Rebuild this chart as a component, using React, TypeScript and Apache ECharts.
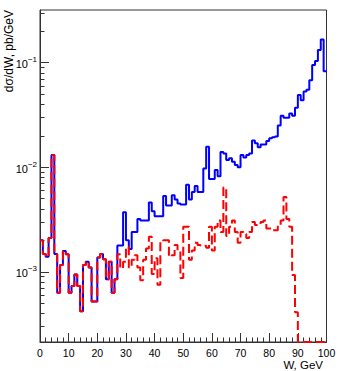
import React, { useEffect, useRef } from "react";
import * as echarts from "echarts";

// Histogram bin edges (W, GeV)
const binEdges: number[] = Array.from({ length: 101 }, (_, i) => i);

// dσ/dW (pb/GeV) per 1 GeV bin — blue solid histogram
const blueValues: number[] = [
  0.0020, 0.00148, 0.00139, 0.00211, 0.0131, 0.00148, 0.00063, 0.00116, 0.00158, 0.00147,
  0.00063, 0.00073, 0.00094, 0.00073, 0.00042, 0.00116, 0.00125, 0.0011, 0.00052, 0.00052,
  0.00137, 0.00148, 0.00132, 0.00085, 0.00125, 0.00063, 0.00085, 0.00178, 0.00178, 0.0037,
  0.0020, 0.00165, 0.0024, 0.0024, 0.0032, 0.0031, 0.0031, 0.0031, 0.0046, 0.0038,
  0.0034, 0.0034, 0.0034, 0.0053, 0.0043, 0.0043, 0.0054, 0.0049, 0.0045, 0.0044,
  0.0044, 0.0068, 0.0049, 0.0058, 0.0066, 0.0058, 0.0058, 0.0097, 0.0157, 0.0077,
  0.0077, 0.0094, 0.0082, 0.0140, 0.0135, 0.0117, 0.0122, 0.0113, 0.0105, 0.0100,
  0.0131, 0.0124, 0.0131, 0.0135, 0.018, 0.017, 0.0155, 0.0165, 0.0165, 0.0178,
  0.0189, 0.0193, 0.0197, 0.025, 0.031, 0.0297, 0.0297, 0.0327, 0.031, 0.037,
  0.049, 0.0437, 0.053, 0.055, 0.068, 0.095, 0.104, 0.132, 0.167, 0.083,
];

// red dashed histogram
const redValues: number[] = [
  0.0020, 0.00148, 0.00139, 0.00211, 0.0131, 0.00148, 0.00063, 0.00116, 0.00158, 0.00147,
  0.00063, 0.00073, 0.00094, 0.00073, 0.00042, 0.00116, 0.00125, 0.0011, 0.00052, 0.00052,
  0.00137, 0.00148, 0.00132, 0.00085, 0.00125, 0.00063, 0.00085, 0.00147, 0.00108, 0.00125,
  0.00173, 0.0011, 0.0013, 0.00144, 0.0011, 0.00083, 0.0013, 0.00167, 0.00216, 0.00095,
  0.00135, 0.00075, 0.00194, 0.0020, 0.0020, 0.0014, 0.00144, 0.0018, 0.0016, 0.00087,
  0.0027, 0.0027, 0.0013, 0.0016, 0.0019, 0.0018, 0.00177, 0.00177, 0.0017, 0.0027,
  0.0016, 0.0027, 0.0031, 0.0024, 0.0064, 0.0022, 0.0027, 0.0031, 0.0024, 0.0019,
  0.0024, 0.0023, 0.0021, 0.0024, 0.0030, 0.0028, 0.0028, 0.0030, 0.0031, 0.0026,
  0.0026, 0.0025, 0.0025, 0.0028, 0.0031, 0.0052, 0.0032, 0.0027, 0.00093, 0.00041,
  0, 0, 0, 0, 0, 0, 0, 0, 0, 0,
];

const yRange: number[] = [2.13e-4, 0.319];
const yMajorExponents: number[] = [-3, -2, -1];
const yMinorDecades: number[] = [-4, -3, -2, -1];
const yMinorMultipliers: number[] = [2, 3, 4, 5, 6, 7, 8, 9];
const xTitle = "W, GeV";
const yTitle = "dσ/dW, pb/GeV";

const FONT = "'Liberation Sans', Arial, Helvetica, sans-serif";

export default function App() {
  const ref = useRef<HTMLDivElement>(null);

  useEffect(() => {
    if (!ref.current) return;
    const chart = echarts.init(ref.current, undefined, { renderer: "svg" });

    const lo = Math.log10(yRange[0]);
    const hi = Math.log10(yRange[1]);

    const minorTicks: number[] = [];
    yMinorDecades.forEach((d) =>
      yMinorMultipliers.forEach((m) => {
        const v = Math.log10(m * Math.pow(10, d));
        if (v > lo && v < hi) minorTicks.push(v);
      })
    );

    const toPoints = (values: number[]) => {
      const pts: number[][] = [];
      values.forEach((v, i) => {
        pts.push([binEdges[i], v > 0 ? Math.max(Math.log10(v), lo) : lo]);
      });
      const last = pts[pts.length - 1][1];
      pts.push([binEdges[values.length], last]);
      return pts;
    };

    const option: any = {
      animation: false,
      backgroundColor: "#fff",
      grid: {
        left: 40,
        right: 11.5,
        top: 10,
        bottom: 29,
        show: true,
        borderColor: "#333",
        borderWidth: 1,
        containLabel: false,
        outerBoundsMode: "none",
      },
      xAxis: {
        type: "value",
        min: 0,
        max: 100,
        interval: 10,
        axisLine: { show: true, lineStyle: { color: "#333", width: 1 } },
        axisTick: { show: true, inside: true, length: 9, lineStyle: { color: "#333" } },
        minorTick: { show: true, splitNumber: 5, length: 4.5, lineStyle: { color: "#333" } },
        axisLabel: { color: "#000", fontSize: 10.5, fontFamily: FONT, margin: 5 },
        splitLine: { show: false },
        minorSplitLine: { show: false },
      },
      yAxis: [
        {
          type: "value",
          min: lo,
          max: hi,
          position: "left",
          axisLine: { show: true, lineStyle: { color: "#333", width: 1 } },
          axisTick: {
            show: true,
            inside: true,
            length: 9,
            customValues: yMajorExponents,
            lineStyle: { color: "#333" },
          },
          axisLabel: {
            show: true,
            customValues: yMajorExponents,
            margin: 3,
            color: "#000",
            fontFamily: FONT,
            formatter: (v: number) =>
              `{b|10}{s|${v < 0 ? "\u2212" : ""}${Math.abs(Math.round(v))}}`,
            rich: {
              b: { fontSize: 11, fontFamily: FONT, color: "#000", lineHeight: 14, verticalAlign: "bottom" },
              s: { fontSize: 8, fontFamily: FONT, color: "#000", lineHeight: 8, verticalAlign: "top" },
            },
          },
          splitLine: { show: false },
        },
        {
          type: "value",
          min: lo,
          max: hi,
          position: "left",
          offset: 0,
          axisLine: { show: false },
          axisTick: {
            show: true,
            inside: true,
            length: 4.5,
            customValues: minorTicks,
            lineStyle: { color: "#333" },
          },
          axisLabel: { show: false },
          splitLine: { show: false },
        },
      ],
      series: [
        {
          type: "line",
          step: "end",
          data: toPoints(blueValues),
          yAxisIndex: 0,
          showSymbol: false,
          symbol: "none",
          clip: true,
          silent: true,
          lineStyle: { color: "#0000ff", width: 2 },
        },
        {
          type: "line",
          step: "end",
          data: toPoints(redValues),
          yAxisIndex: 0,
          showSymbol: false,
          symbol: "none",
          clip: false,
          silent: true,
          lineStyle: { color: "#ff0000", width: 2, type: [9, 4] },
        },
      ],
      graphic: [
        {
          type: "text",
          x: 323,
          y: 364.5,
          style: {
            text: xTitle,
            fontSize: 11.5,
            fontFamily: FONT,
            fill: "#000",
            align: "right",
            verticalAlign: "middle",
          },
        },
        {
          type: "text",
          x: 8.5,
          y: 10,
          rotation: Math.PI / 2,
          style: {
            text: yTitle,
            fontSize: 12,
            fontFamily: FONT,
            fill: "#000",
            align: "right",
            verticalAlign: "middle",
          },
        },
      ],
    };

    chart.setOption(option);
    return () => chart.dispose();
  }, []);

  return (
    <div
      ref={ref}
      style={{ position: "fixed", left: 0, top: 0, width: 338, height: 371, background: "#fff" }}
    />
  );
}
